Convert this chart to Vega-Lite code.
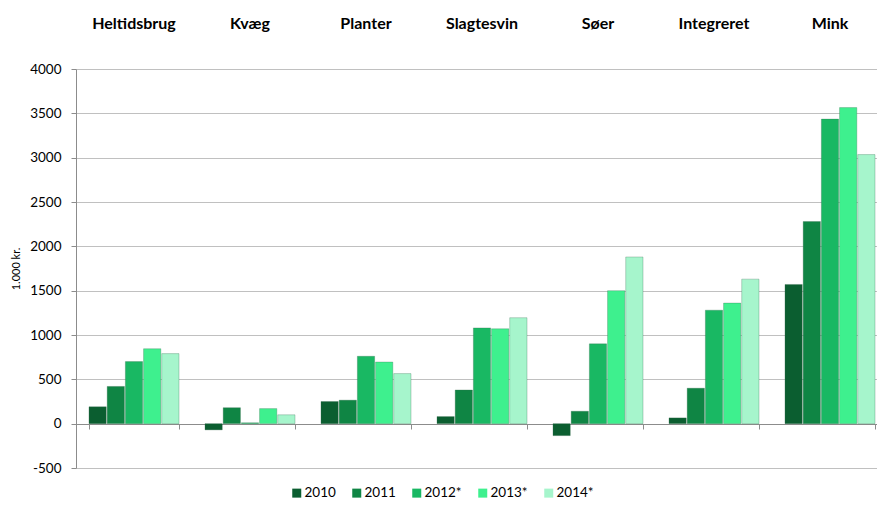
{
  "$schema": "https://vega.github.io/schema/vega-lite/v6.json",
  "autosize": "none",
  "width": 801,
  "height": 399,
  "padding": {"left": 76, "top": 69, "right": 0, "bottom": 43},
  "background": "white",
  "config": {
    "font": "Lato",
    "view": {"stroke": null}
  },
  "data": {
    "values": [
      {"group": "Heltidsbrug", "year": "2010", "value": 190},
      {"group": "Heltidsbrug", "year": "2011", "value": 420},
      {"group": "Heltidsbrug", "year": "2012*", "value": 700},
      {"group": "Heltidsbrug", "year": "2013*", "value": 845},
      {"group": "Heltidsbrug", "year": "2014*", "value": 790},
      {"group": "Kvæg", "year": "2010", "value": -70},
      {"group": "Kvæg", "year": "2011", "value": 180},
      {"group": "Kvæg", "year": "2012*", "value": 10},
      {"group": "Kvæg", "year": "2013*", "value": 170},
      {"group": "Kvæg", "year": "2014*", "value": 100},
      {"group": "Planter", "year": "2010", "value": 250},
      {"group": "Planter", "year": "2011", "value": 265},
      {"group": "Planter", "year": "2012*", "value": 760},
      {"group": "Planter", "year": "2013*", "value": 695},
      {"group": "Planter", "year": "2014*", "value": 565},
      {"group": "Slagtesvin", "year": "2010", "value": 80},
      {"group": "Slagtesvin", "year": "2011", "value": 380},
      {"group": "Slagtesvin", "year": "2012*", "value": 1080},
      {"group": "Slagtesvin", "year": "2013*", "value": 1070},
      {"group": "Slagtesvin", "year": "2014*", "value": 1195},
      {"group": "Søer", "year": "2010", "value": -135},
      {"group": "Søer", "year": "2011", "value": 140},
      {"group": "Søer", "year": "2012*", "value": 900},
      {"group": "Søer", "year": "2013*", "value": 1500},
      {"group": "Søer", "year": "2014*", "value": 1880},
      {"group": "Integreret", "year": "2010", "value": 65},
      {"group": "Integreret", "year": "2011", "value": 400},
      {"group": "Integreret", "year": "2012*", "value": 1280},
      {"group": "Integreret", "year": "2013*", "value": 1360},
      {"group": "Integreret", "year": "2014*", "value": 1630},
      {"group": "Mink", "year": "2010", "value": 1570},
      {"group": "Mink", "year": "2011", "value": 2280},
      {"group": "Mink", "year": "2012*", "value": 3435},
      {"group": "Mink", "year": "2013*", "value": 3565},
      {"group": "Mink", "year": "2014*", "value": 3035}
    ]
  },
  "encoding": {
    "x": {
      "field": "group",
      "type": "nominal",
      "sort": null,
      "scale": {"range": [0, 812], "paddingInner": 0.224, "paddingOuter": 0.112}
    },
    "y": {
      "field": "value",
      "type": "quantitative",
      "scale": {"domain": [-500, 4000], "nice": false, "zero": false},
      "axis": {
        "title": "1.000 kr.",
        "titleFont": "Lato",
        "titleFontSize": 11,
        "titleFontWeight": "normal",
        "titleColor": "#000000",
        "titlePadding": 8,
        "values": [-500, 0, 500, 1000, 1500, 2000, 2500, 3000, 3500, 4000],
        "labelExpr": "'' + datum.value",
        "labelFontSize": 13.5,
        "labelColor": "#000000",
        "labelPadding": 10,
        "tickSize": 5,
        "tickColor": "#8c8c8c",
        "domainColor": "#8c8c8c",
        "gridColor": "#c0c0c0",
        "gridWidth": 1.2
      }
    }
  },
  "layer": [
    {
      "mark": {"type": "bar", "stroke": "#3a6a50", "strokeWidth": 0.6, "strokeOpacity": 0.5},
      "encoding": {
        "x": {
          "field": "group",
          "type": "nominal",
          "sort": null,
          "axis": {
            "orient": "bottom",
            "title": null,
            "labels": false,
            "offset": -44,
            "tickBand": "extent",
            "tickSize": 5,
            "tickColor": "#8c8c8c",
            "domainColor": "#8c8c8c",
            "domainWidth": 1.2
          }
        },
        "xOffset": {"field": "year", "type": "nominal", "scale": {"paddingInner": 0.05}},
        "color": {
          "field": "year",
          "type": "nominal",
          "scale": {
            "domain": ["2010", "2011", "2012*", "2013*", "2014*"],
            "range": ["#0b5e30", "#0f8544", "#19b863", "#3ef08e", "#a6f5cc"]
          },
          "legend": {
            "title": null,
            "orient": "none",
            "direction": "horizontal",
            "legendX": 214,
            "legendY": 417,
            "symbolType": "square",
            "symbolSize": 81,
            "symbolStrokeWidth": 0,
            "labelFontSize": 13.5,
            "labelColor": "#000000",
            "labelOffset": 1,
            "columnPadding": 14
          }
        }
      }
    },
    {
      "mark": {"type": "bar", "opacity": 0},
      "encoding": {
        "x": {
          "field": "group",
          "type": "nominal",
          "sort": null,
          "axis": {
            "orient": "top",
            "title": null,
            "domain": false,
            "ticks": false,
            "grid": false,
            "labelFontSize": 16,
            "labelFontWeight": "bold",
            "labelColor": "#000000",
            "labelPadding": 38,
            "labelAngle": 0
          }
        },
        "y": {"datum": 0}
      }
    }
  ],
  "resolve": {"axis": {"x": "independent"}}
}
